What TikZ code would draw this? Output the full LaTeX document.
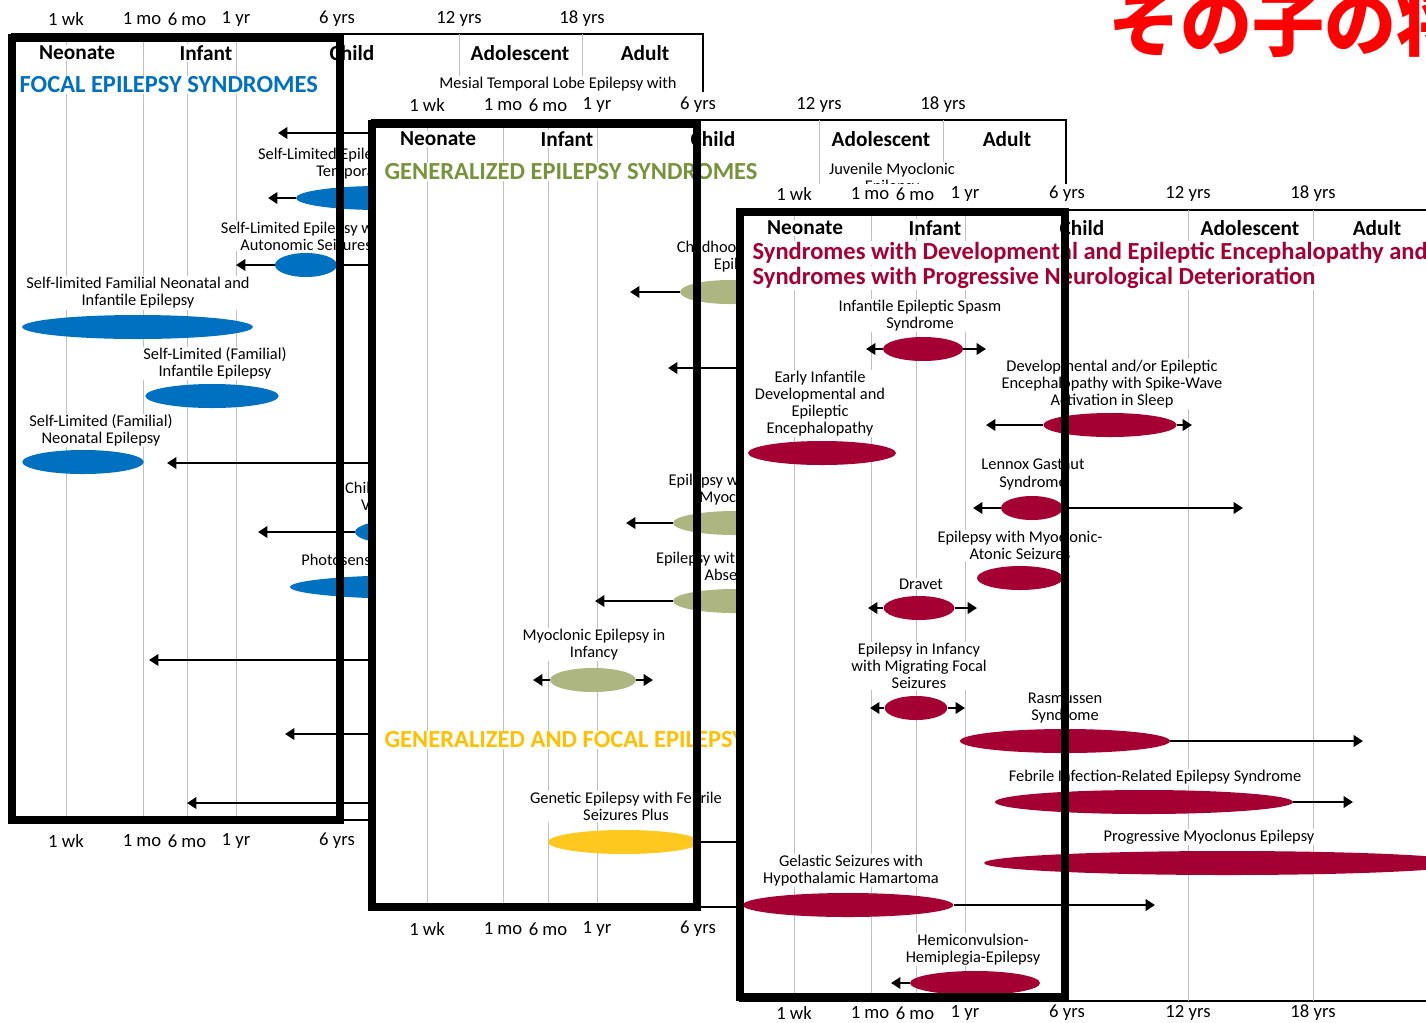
\documentclass[tikz,border=0pt]{standalone}
\usepackage{fontspec}
\setmainfont{Carlito}
\newfontfamily\jpfont{Noto Sans CJK JP}
\usetikzlibrary{shapes.geometric,arrows.meta}
\definecolor{focal}{HTML}{0070C0}
\definecolor{gentitle}{HTML}{77933C}
\definecolor{genfill}{HTML}{ADB581}
\definecolor{mixtitle}{HTML}{FFC000}
\definecolor{mixfill}{HTML}{FFC81E}
\definecolor{deefill}{HTML}{A50034}
\definecolor{gridgray}{HTML}{BFBFBF}
\definecolor{jpred}{HTML}{FF0000}
\pgfdeclarelayer{bgA}
\pgfdeclarelayer{fgA}
\pgfdeclarelayer{bgB}
\pgfdeclarelayer{fgB}
\pgfdeclarelayer{bgC}
\pgfdeclarelayer{fgC}
\pgfsetlayers{bgA,fgA,bgB,fgB,bgC,fgC,main}

\begin{document}
\begin{tikzpicture}[x=0.75pt, y=-0.75pt,
  ax/.style={font=\fontsize{14}{16}\selectfont, inner sep=1pt},
  hd/.style={font=\bfseries\fontsize{16}{18}\selectfont, fill=white, inner sep=1pt},
  ttl/.style={font=\bfseries\fontsize{18.4}{21}\selectfont, fill=white, inner sep=1pt, anchor=west},
  lbl/.style={font=\fontsize{12.3}{12.8}\selectfont, align=center, fill=white, inner sep=0.8pt},
  gl/.style={draw=gridgray, line width=0.75pt},
  frm/.style={draw=black, line width=1.2pt},
  hl/.style={draw=black, line width=6.5pt},
  arr/.style={-{Triangle[length=7pt,width=8.5pt]}, line width=1.8pt},
  conn/.style={line width=1.8pt},
  syn/.style={ellipse, inner sep=0pt, minimum height=18pt},
  fcs/.style={syn, fill=focal},
  gns/.style={syn, fill=genfill},
  mxs/.style={syn, fill=mixfill},
  dvs/.style={syn, fill=deefill}]
\useasboundingbox (0,0) rectangle (1426,1022);

% focal panel
\begin{pgfonlayer}{fgA}
        \node (p1t1) [ax] at (66,19) {1 wk};
        \node (p1t2) [ax] at (142,19) {1 mo};
        \node (p1t3) [ax] at (187,19) {6 mo};
        \node (p1t4) [ax] at (236,19) {1 yr};
        \node (p1t5) [ax] at (337,19) {6 yrs};
        \node (p1t6) [ax] at (459,19) {12 yrs};
        \node (p1t7) [ax] at (582,19) {18 yrs};
        \node (p1b1) [ax] at (66,841) {1 wk};
        \node (p1b2) [ax] at (142,841) {1 mo};
        \node (p1b3) [ax] at (187,841) {6 mo};
        \node (p1b4) [ax] at (236,841) {1 yr};
        \node (p1b5) [ax] at (337,841) {6 yrs};
        \node (p1a1) [hd] at (77,53) {Neonate};
        \node (p1a2) [hd] at (206,53) {Infant};
        \node (p1a3) [hd] at (352,53) {Child};
        \node (p1a4) [hd] at (520,53) {Adolescent};
        \node (p1a5) [hd] at (645,53) {Adult};
        \node (p1h) [ttl, text=focal] at (18,85) {FOCAL EPILEPSY SYNDROMES};
        \node (l1) [lbl] at (558,84) {Mesial Temporal Lobe Epilepsy with};
        \node (l2) [lbl] at (370,164) {Self-Limited Epilepsy with Centro-\\Temporal Spikes};
        \node (l3) [lbl] at (306,236) {Self-Limited Epilepsy with\\Autonomic Seizures};
        \node (l4) [lbl] at (138,293) {Self-limited Familial Neonatal and\\Infantile Epilepsy};
        \node (l5) [lbl] at (215,363.5) {Self-Limited (Familial)\\Infantile Epilepsy};
        \node (l6) [lbl] at (101,430.5) {Self-Limited (Familial)\\Neonatal Epilepsy};
        \node (l7) [lbl] at (410,497.5) {Childhood Occipital\\Visual Epilepsy};
        \node (l8) [lbl] at (428,561) {Photosensitive Occipital Lobe Epilepsy};
        \node (f1) [fcs, minimum width=126pt] at (380,198) {};
        \node (f2) [fcs, minimum width=46.5pt] at (306,265) {};
        \node (f3) [fcs, minimum width=173pt] at (137.5,327) {};
        \node (f4) [fcs, minimum width=100pt] at (212,396) {};
        \node (f5) [fcs, minimum width=91pt] at (83,462) {};
        \node (f6) [fcs, minimum width=67.5pt] at (400,532) {};
        \node (f7) [fcs, minimum width=195pt] at (420,587) {};
        \draw[hl] (12,38) rectangle (340,820);
\end{pgfonlayer}
\begin{pgfonlayer}{bgA}
        \draw[frm] (12,34) rectangle (703,820);
        \draw[gl] (66,34) -- (66,820);
        \draw[gl] (143,34) -- (143,820);
        \draw[gl] (187,34) -- (187,820);
        \draw[gl] (236,34) -- (236,820);
        \draw[gl] (337,34) -- (337,820);
        \draw[gl] (459,34) -- (459,820);
        \draw[gl] (582,34) -- (582,820);
        \coordinate (f0) at (390,133);
        \coordinate (f0t) at (278,133);
        \coordinate (f1t) at (268,198);
        \coordinate (f2t) at (236,265);
        \coordinate (f2r) at (390,265);
        \coordinate (f8) at (390,463);
        \coordinate (f8t) at (167,463);
        \coordinate (f6t) at (258,532);
        \coordinate (f9) at (390,660);
        \coordinate (f9t) at (149,660);
        \coordinate (f10) at (390,734);
        \coordinate (f10t) at (285,734);
        \coordinate (f11) at (390,803);
        \coordinate (f11t) at (187,803);
        \draw (f0) edge [arr] (f0t);
        \draw (f1) edge [arr] (f1t);
        \draw (f2) edge [arr] (f2t);
        \draw (f2) edge [conn] (f2r);
        \draw (f8) edge [arr] (f8t);
        \draw (f6) edge [arr] (f6t);
        \draw (f9) edge [arr] (f9t);
        \draw (f10) edge [arr] (f10t);
        \draw (f11) edge [arr] (f11t);
\end{pgfonlayer}

% generalized panel
\begin{pgfonlayer}{fgB}
        \node (p2t1) [ax] at (427,105) {1 wk};
        \node (p2t2) [ax] at (503,105) {1 mo};
        \node (p2t3) [ax] at (548,105) {6 mo};
        \node (p2t4) [ax] at (597,105) {1 yr};
        \node (p2t5) [ax] at (698,105) {6 yrs};
        \node (p2t6) [ax] at (819,105) {12 yrs};
        \node (p2t7) [ax] at (943,105) {18 yrs};
        \node (p2b1) [ax] at (427,929) {1 wk};
        \node (p2b2) [ax] at (503,929) {1 mo};
        \node (p2b3) [ax] at (548,929) {6 mo};
        \node (p2b4) [ax] at (597,929) {1 yr};
        \node (p2b5) [ax] at (698,929) {6 yrs};
        \node (p2a1) [hd] at (438,139) {Neonate};
        \node (p2a2) [hd] at (567,139) {Infant};
        \node (p2a3) [hd] at (713,139) {Child};
        \node (p2a4) [hd] at (881,139) {Adolescent};
        \node (p2a5) [hd] at (1007,139) {Adult};
        \node (p2h) [ttl, text=gentitle] at (383,172) {GENERALIZED EPILEPSY SYNDROMES};
        \node (p2k) [ttl, text=mixtitle] at (383,740) {GENERALIZED AND FOCAL EPILEPSY SYNDROMES};
        \node (m1) [lbl] at (892,178.5) {Juvenile Myoclonic\\Epilepsy};
        \node (m2) [lbl] at (741,256.5) {Childhood Absence\\Epilepsy};
        \node (m3) [lbl] at (734,489.5) {Epilepsy with Eyelid\\Myoclonia};
        \node (m4) [lbl] at (736,566.5) {Epilepsy with Myoclonic\\Absences};
        \node (m5) [lbl] at (594,644.5) {Myoclonic Epilepsy in\\Infancy};
        \node (m6) [lbl] at (626,806.5) {Genetic Epilepsy with Febrile\\Seizures Plus};
        \node (g1) [gns, minimum width=75pt] at (730,292) {};
        \node (g2) [gns, minimum width=93pt] at (735,523) {};
        \node (g3) [gns, minimum width=93pt] at (735,601) {};
        \node (g4) [gns, minimum width=64.5pt] at (593,680) {};
        \node (y1) [mxs, minimum width=114pt] at (624,842) {};
        \draw[hl] (372,124) rectangle (697,907);
\end{pgfonlayer}
\begin{pgfonlayer}{bgB}
        \fill[white] (368,92) rectangle (1075,945);
        \draw[frm] (372,120) rectangle (1066,907);
        \draw[gl] (427,120) -- (427,907);
        \draw[gl] (503,120) -- (503,907);
        \draw[gl] (548,120) -- (548,907);
        \draw[gl] (597,120) -- (597,907);
        \draw[gl] (698,120) -- (698,907);
        \draw[gl] (819,120) -- (819,907);
        \draw[gl] (943,120) -- (943,907);
        \coordinate (g0) at (745,368);
        \coordinate (g0t) at (668,368);
        \coordinate (g1t) at (630,292);
        \coordinate (g2t) at (626,523);
        \coordinate (g3t) at (595,601);
        \coordinate (g4l) at (533,680);
        \coordinate (g4r) at (653,680);
        \coordinate (y1r) at (760,842);
        \draw (g0) edge [arr] (g0t);
        \draw (g1) edge [arr] (g1t);
        \draw (g2) edge [arr] (g2t);
        \draw (g3) edge [arr] (g3t);
        \draw (g4) edge [arr] (g4l);
        \draw (g4) edge [arr] (g4r);
        \draw (y1) edge [conn] (y1r);
\end{pgfonlayer}

% encephalopathy panel
\begin{pgfonlayer}{fgC}
        \node (p3t1) [ax] at (794,194) {1 wk};
        \node (p3t2) [ax] at (870,194) {1 mo};
        \node (p3t3) [ax] at (915,194) {6 mo};
        \node (p3t4) [ax] at (965,194) {1 yr};
        \node (p3t5) [ax] at (1067,194) {6 yrs};
        \node (p3t6) [ax] at (1188,194) {12 yrs};
        \node (p3t7) [ax] at (1313,194) {18 yrs};
        \node (p3b1) [ax] at (794,1013) {1 wk};
        \node (p3b2) [ax] at (870,1013) {1 mo};
        \node (p3b3) [ax] at (915,1013) {6 mo};
        \node (p3b4) [ax] at (965,1013) {1 yr};
        \node (p3b5) [ax] at (1067,1013) {6 yrs};
        \node (p3b6) [ax] at (1188,1013) {12 yrs};
        \node (p3b7) [ax] at (1313,1013) {18 yrs};
        \node (p3a1) [hd] at (805,228) {Neonate};
        \node (p3a2) [hd] at (935,228) {Infant};
        \node (p3a3) [hd] at (1082,228) {Child};
        \node (p3a4) [hd] at (1250,228) {Adolescent};
        \node (p3a5) [hd] at (1377,228) {Adult};
        \node (p3h1) [ttl, text=deefill] at (751,253) {Syndromes with Developmental and Epileptic Encephalopathy and};
        \node (p3h2) [ttl, text=deefill] at (751,278) {Syndromes with Progressive Neurological Deterioration};
        \node (n1) [lbl] at (920,315.5) {Infantile Epileptic Spasm\\Syndrome};
        \node (n2) [lbl] at (1112,384) {Developmental and/or Epileptic\\Encephalopathy with Spike-Wave\\Activation in Sleep};
        \node (n3) [lbl] at (820,403.5) {Early Infantile\\Developmental and\\Epileptic\\Encephalopathy};
        \node (n4) [lbl] at (1033,474.5) {Lennox Gastaut\\Syndrome};
        \node (n5) [lbl] at (1020,545.5) {Epilepsy with Myoclonic-\\Atonic Seizures};
        \node (n6) [lbl] at (921,584) {Dravet};
        \node (n7) [lbl] at (919,666) {Epilepsy in Infancy\\with Migrating Focal\\Seizures};
        \node (n8) [lbl] at (1065,708.5) {Rasmussen\\Syndrome};
        \node (n9) [lbl] at (1155,777) {Febrile Infection-Related Epilepsy Syndrome};
        \node (n10) [lbl] at (1209,837) {Progressive Myoclonus Epilepsy};
        \node (n11) [lbl] at (851,870.5) {Gelastic Seizures with\\Hypothalamic Hamartoma};
        \node (n12) [lbl] at (973,949.5) {Hemiconvulsion-\\Hemiplegia-Epilepsy};
        \node (d1) [dvs, minimum width=60pt] at (923,349) {};
        \node (d2) [dvs, minimum width=100pt] at (1110,425) {};
        \node (d3) [dvs, minimum width=111pt] at (822,453) {};
        \node (d4) [dvs, minimum width=46.5pt] at (1032,508) {};
        \node (d5) [dvs, minimum width=64.5pt] at (1020,578) {};
        \node (d6) [dvs, minimum width=53pt] at (919,608) {};
        \node (d7) [dvs, minimum width=47pt] at (916,708) {};
        \node (d8) [dvs, minimum width=157.5pt] at (1065,741) {};
        \node (d9) [dvs, minimum width=223.5pt] at (1144,802) {};
        \node (d10) [dvs, minimum width=364.5pt] at (1227,863) {};
        \node (d11) [dvs, minimum width=158pt] at (848,905) {};
        \node (d12) [dvs, minimum width=97.5pt] at (975,983) {};
        \draw[hl] (740,212) rectangle (1065,997);
\end{pgfonlayer}
\begin{pgfonlayer}{bgC}
        \fill[white] (736,184) rectangle (1440,1030);
        \draw[frm] (740,210) rectangle (1440,1001);
        \draw[gl] (794,210) -- (794,1001);
        \draw[gl] (871,210) -- (871,1001);
        \draw[gl] (916,210) -- (916,1001);
        \draw[gl] (965,210) -- (965,1001);
        \draw[gl] (1067,210) -- (1067,1001);
        \draw[gl] (1188,210) -- (1188,1001);
        \draw[gl] (1313,210) -- (1313,1001);
        \coordinate (d1l) at (866,349);
        \coordinate (d1r) at (986,349);
        \coordinate (d2l) at (986,425);
        \coordinate (d2r) at (1192,425);
        \coordinate (d4l) at (973,508);
        \coordinate (d4r) at (1243,508);
        \coordinate (d6l) at (868,608);
        \coordinate (d6r) at (977,608);
        \coordinate (d7l) at (870,708);
        \coordinate (d7r) at (965,708);
        \coordinate (d8r) at (1363,741);
        \coordinate (d9r) at (1353,802);
        \coordinate (d11r) at (1155,905);
        \coordinate (d12l) at (891,983);
        \draw (d1) edge [arr] (d1l);
        \draw (d1) edge [arr] (d1r);
        \draw (d2) edge [arr] (d2l);
        \draw (d2) edge [arr] (d2r);
        \draw (d4) edge [arr] (d4l);
        \draw (d4) edge [arr] (d4r);
        \draw (d6) edge [arr] (d6l);
        \draw (d6) edge [arr] (d6r);
        \draw (d7) edge [arr] (d7l);
        \draw (d7) edge [arr] (d7r);
        \draw (d8) edge [arr] (d8r);
        \draw (d9) edge [arr] (d9r);
        \draw (d11) edge [arr] (d11r);
        \draw (d12) edge [arr] (d12l);
\end{pgfonlayer}

\node (jp) [anchor=base west, inner sep=0pt, text=jpred, font=\jpfont\bfseries\fontsize{54}{60}\selectfont] at (1108,50) {その子の将来};
\end{tikzpicture}
\end{document}
